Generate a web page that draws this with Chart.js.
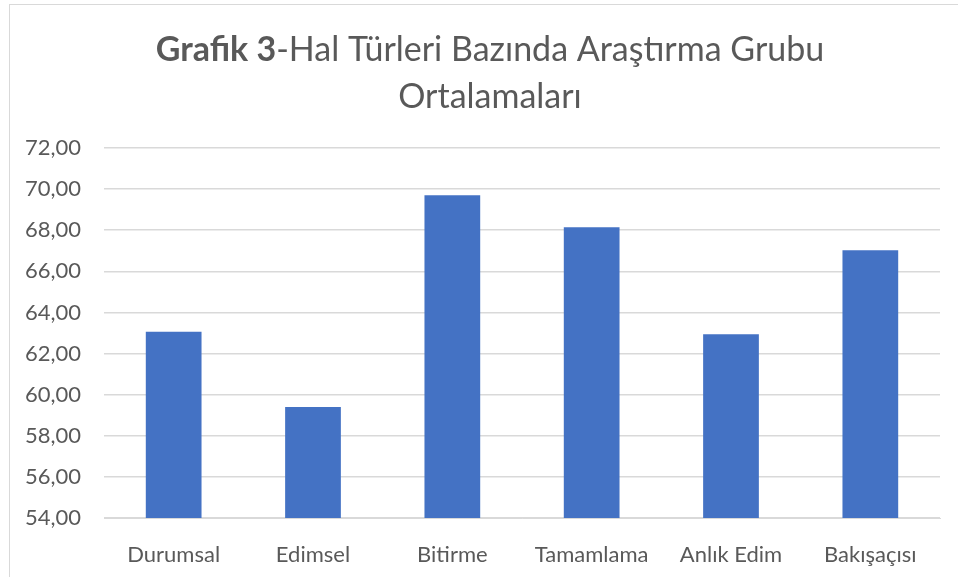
<!DOCTYPE html>
<html>
<head>
<meta charset="utf-8">
<script src="https://cdn.jsdelivr.net/npm/chart.js@4/dist/chart.umd.min.js"></script>
<style>
  html, body { margin: 0; padding: 0; background: #fff; overflow: hidden; }
  #frame { position: absolute; left: 9px; top: 4px; width: 1000px; height: 700px; border: 1px solid #d9d9d9; }
  #chart { position: absolute; left: 0; top: 0; }
</style>
</head>
<body>
<div id="frame"></div>
<canvas id="chart" width="958" height="577"></canvas>
<script>
const categories = ['Durumsal', 'Edimsel', 'Bitirme', 'Tamamlama', 'Anlık Edim', 'Bakışaçısı'];
const averages = [63.06, 59.40, 69.70, 68.15, 62.94, 67.02];
const yMin = 54;
const yMax = 72;
const yStep = 2;
const titleBold = 'Grafik 3';
const titleRest = '-Hal Türleri Bazında Araştırma Grubu';
const titleLine2 = 'Ortalamaları';

const FONT = 'Lato, "Open Sans", sans-serif';
const GREY = '#595959';

// two-line title with a bold lead-in, drawn on the canvas
const titlePlugin = {
    id: 'mixedTitle',
    afterDraw(chart) {
        const ctx = chart.ctx;
        const cx = 490;
        const size = 34;
        ctx.save();
        ctx.fillStyle = GREY;
        ctx.textBaseline = 'middle';
        ctx.textAlign = 'left';
        ctx.font = 'bold ' + size + 'px ' + FONT;
        const wBold = ctx.measureText(titleBold).width;
        ctx.font = size + 'px ' + FONT;
        const wRest = ctx.measureText(titleRest).width;
        let x = cx - (wBold + wRest) / 2;
        ctx.font = 'bold ' + size + 'px ' + FONT;
        ctx.fillText(titleBold, x, 50);
        ctx.font = size + 'px ' + FONT;
        ctx.fillText(titleRest, x + wBold, 50);
        ctx.textAlign = 'center';
        ctx.fillText(titleLine2, cx, 97);
        ctx.restore();
    }
};

const ctx = document.getElementById('chart').getContext('2d');
new Chart(ctx, {
    type: 'bar',
    data: {
        labels: categories,
        datasets: [{
            label: 'Ortalama',
            data: averages,
            backgroundColor: '#4472C4',
            borderWidth: 0,
            barPercentage: 0.4,
            categoryPercentage: 1.0
        }]
    },
    options: {
        responsive: false,
        animation: false,
        devicePixelRatio: 1,
        layout: { padding: { top: 148, right: 18, left: 0, bottom: 0 } },
        plugins: {
            legend: { display: false },
            title: { display: false },
            tooltip: { enabled: false }
        },
        scales: {
            x: {
                grid: { display: false },
                border: { display: true, color: '#d9d9d9', width: 1 },
                ticks: {
                    color: GREY,
                    font: { family: FONT, size: 22 },
                    padding: 16,
                    maxRotation: 0,
                    autoSkip: false
                },
                afterFit(scale) { scale.height = 59; }
            },
            y: {
                min: yMin,
                max: yMax,
                grid: { color: '#d9d9d9', lineWidth: 1.5, drawTicks: false },
                border: { display: false },
                ticks: {
                    stepSize: yStep,
                    color: GREY,
                    font: { family: FONT, size: 22 },
                    padding: 23,
                    callback: v => v.toFixed(2).replace('.', ',')
                },
                afterFit(scale) { scale.width = 104; }
            }
        }
    },
    plugins: [titlePlugin]
});
</script>
</body>
</html>
